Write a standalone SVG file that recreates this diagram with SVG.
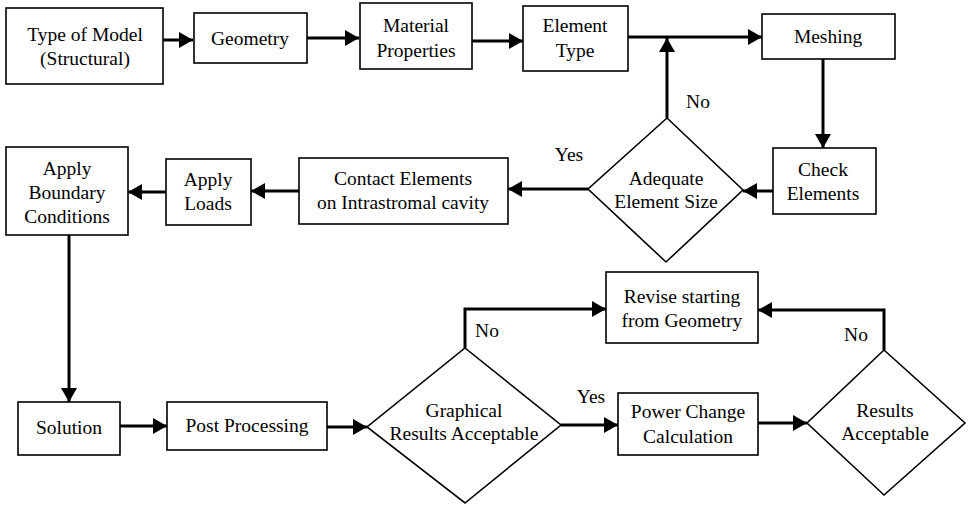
<svg xmlns="http://www.w3.org/2000/svg" width="968" height="505" viewBox="0 0 968 505" font-family="Liberation Serif, Times New Roman, serif" font-size="19.5" text-anchor="middle">
<style>
.box{fill:#fff;stroke:#000;stroke-width:1.6}
.dia{fill:#fff;stroke:#000;stroke-width:1.6}
.c{fill:none;stroke:#000;stroke-width:3}
text{fill:#000}
</style>
<defs>
<marker id="ah" viewBox="0 0 14 16" refX="14" refY="8" markerWidth="14" markerHeight="16" markerUnits="userSpaceOnUse" orient="auto">
<path d="M0,0 L14,8 L0,16 z" fill="#000"/>
</marker>
</defs>
<g id="connectors">
<path class="c" d="M162,40 H193" marker-end="url(#ah)"/>
<path class="c" d="M307,38 H359" marker-end="url(#ah)"/>
<path class="c" d="M472,41 H523" marker-end="url(#ah)"/>
<path class="c" d="M628,37 H762" marker-end="url(#ah)"/>
<path class="c" d="M823,59 V148" marker-end="url(#ah)"/>
<path class="c" d="M773,191 H743" marker-end="url(#ah)"/>
<path class="c" d="M667,118 V38" marker-end="url(#ah)"/>
<path class="c" d="M588,189 H508" marker-end="url(#ah)"/>
<path class="c" d="M299,191 H251" marker-end="url(#ah)"/>
<path class="c" d="M166,192 H128" marker-end="url(#ah)"/>
<path class="c" d="M69,235 V402" marker-end="url(#ah)"/>
<path class="c" d="M120,426 H167" marker-end="url(#ah)"/>
<path class="c" d="M327,427 H367" marker-end="url(#ah)"/>
<path class="c" d="M465,348 V309 H606" marker-end="url(#ah)"/>
<path class="c" d="M561,425 H618" marker-end="url(#ah)"/>
<path class="c" d="M758,423 H807" marker-end="url(#ah)"/>
<path class="c" d="M884,350 V310 H758" marker-end="url(#ah)"/>
<text x="698" y="108">No</text>
<text x="569" y="161">Yes</text>
<text x="487" y="337">No</text>
<text x="591" y="403">Yes</text>
<text x="856" y="341">No</text>
</g>
<g id="type-of-model">
<rect class="box" x="6" y="8" width="157" height="76"/>
<text x="85" y="41">Type of Model</text>
<text x="85" y="65">(Structural)</text>
</g>
<g id="geometry">
<rect class="box" x="194" y="13" width="113" height="50"/>
<text x="250" y="45">Geometry</text>
</g>
<g id="material-properties">
<rect class="box" x="360" y="3" width="112" height="66"/>
<text x="416" y="32">Material</text>
<text x="416" y="57">Properties</text>
</g>
<g id="element-type">
<rect class="box" x="523" y="6" width="105" height="65"/>
<text x="575" y="32">Element</text>
<text x="575" y="57">Type</text>
</g>
<g id="meshing">
<rect class="box" x="762" y="14" width="133" height="45"/>
<text x="828" y="43">Meshing</text>
</g>
<g id="check-elements">
<rect class="box" x="773" y="148" width="103" height="66"/>
<text x="823" y="176">Check</text>
<text x="823" y="200">Elements</text>
</g>
<g id="adequate-element-size">
<polygon class="dia" points="667,118 743,190 666,262 588,189"/>
<text x="666" y="185">Adequate</text>
<text x="666" y="208">Element Size</text>
</g>
<g id="contact-elements">
<rect class="box" x="299" y="158" width="209" height="66"/>
<text x="403" y="185">Contact Elements</text>
<text x="403" y="209">on Intrastromal cavity</text>
</g>
<g id="apply-loads">
<rect class="box" x="166" y="159" width="85" height="66"/>
<text x="208" y="186">Apply</text>
<text x="208" y="210">Loads</text>
</g>
<g id="apply-boundary-conditions">
<rect class="box" x="6" y="147" width="122" height="88"/>
<text x="67" y="175">Apply</text>
<text x="67" y="199">Boundary</text>
<text x="67" y="223">Conditions</text>
</g>
<g id="solution">
<rect class="box" x="18" y="402" width="102" height="53"/>
<text x="69" y="434">Solution</text>
</g>
<g id="post-processing">
<rect class="box" x="167" y="402" width="160" height="48"/>
<text x="247" y="432">Post Processing</text>
</g>
<g id="graphical-results-acceptable">
<polygon class="dia" points="465,348 561,425 465,503 367,427"/>
<text x="464" y="417">Graphical</text>
<text x="464" y="440">Results Acceptable</text>
</g>
<g id="revise">
<rect class="box" x="606" y="272" width="152" height="71"/>
<text x="682" y="303">Revise starting</text>
<text x="682" y="327">from Geometry</text>
</g>
<g id="power-change-calculation">
<rect class="box" x="618" y="393" width="140" height="62"/>
<text x="688" y="418">Power Change</text>
<text x="688" y="443">Calculation</text>
</g>
<g id="results-acceptable">
<polygon class="dia" points="884,350 965,423 884,495 807,423"/>
<text x="885" y="417">Results</text>
<text x="885" y="440">Acceptable</text>
</g>
</svg>
